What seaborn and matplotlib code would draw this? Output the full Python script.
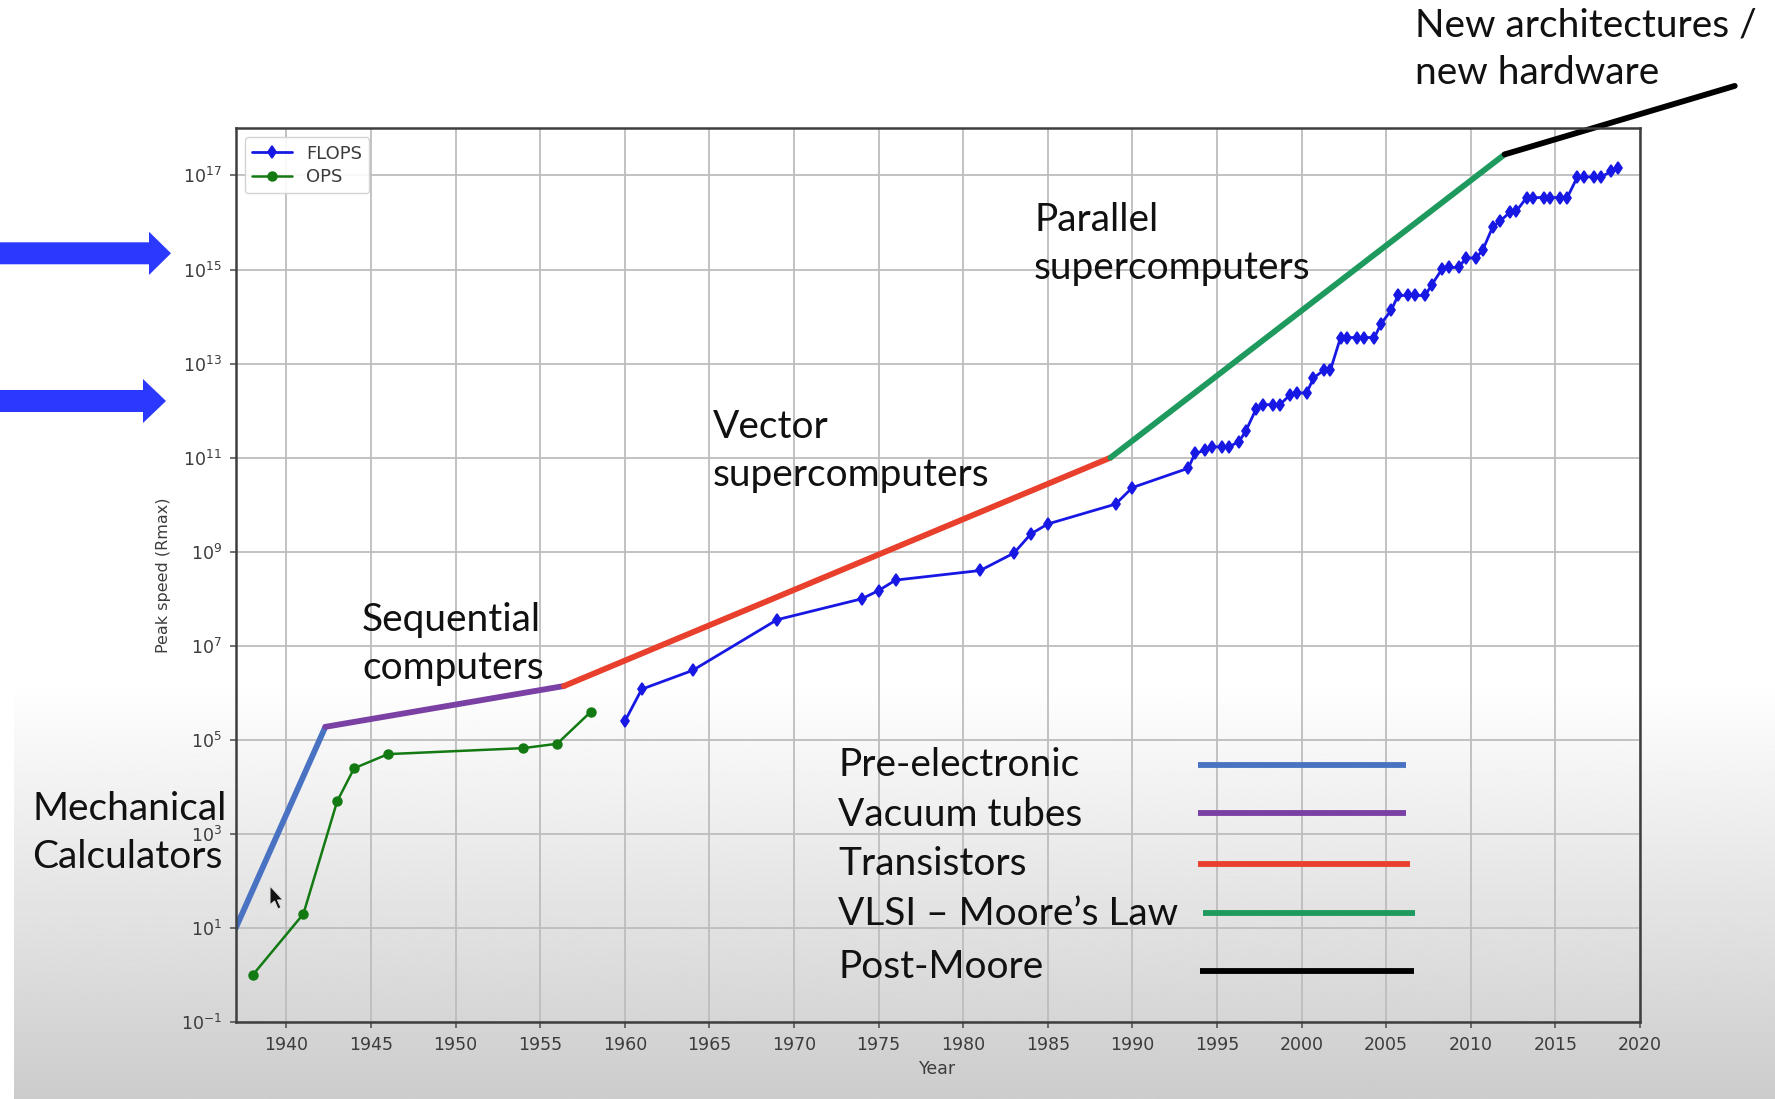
import numpy as np
import pandas as pd
import matplotlib
matplotlib.use("Agg")
import matplotlib.pyplot as plt
import seaborn as sns
from matplotlib.patches import Polygon
from matplotlib.lines import Line2D
from matplotlib.ticker import NullLocator, LogFormatterSciNotation

# ---- data -------------------------------------------------------------
ops_years = [1938, 1941, 1943, 1944, 1946, 1954, 1956, 1958]
ops_values = [1.0, 20, 5.0e3, 2.5e4, 5.0e4, 6.7e4, 8.3e4, 4.0e5]

flops_years = [1960, 1961, 1964, 1969, 1974, 1975, 1976, 1981, 1983, 1984, 1985, 1989, 1990,
               1993.3, 1993.7, 1994.3, 1994.7, 1995.3, 1995.7, 1996.3, 1996.7,
               1997.3, 1997.7, 1998.3, 1998.7, 1999.3, 1999.7, 2000.3, 2000.7,
               2001.3, 2001.7, 2002.3, 2002.7, 2003.3, 2003.7, 2004.3, 2004.7,
               2005.3, 2005.7, 2006.3, 2006.7, 2007.3, 2007.7, 2008.3, 2008.7,
               2009.3, 2009.7, 2010.3, 2010.7, 2011.3, 2011.7, 2012.3, 2012.7,
               2013.3, 2013.7, 2014.3, 2014.7, 2015.3, 2015.7, 2016.3, 2016.7,
               2017.3, 2017.7, 2018.3, 2018.7]
flops_values = [2.5e5, 1.2e6, 3.0e6, 3.6e7, 1.0e8, 1.5e8, 2.5e8, 4.0e8, 9.4e8, 2.4e9, 3.9e9, 1.03e10, 2.32e10,
                5.97e10, 1.24e11, 1.434e11, 1.70e11, 1.70e11, 1.70e11, 2.204e11, 3.682e11,
                1.068e12, 1.338e12, 1.338e12, 1.338e12, 2.121e12, 2.379e12, 2.379e12, 4.938e12,
                7.226e12, 7.226e12, 3.586e13, 3.586e13, 3.586e13, 3.586e13, 3.586e13, 7.072e13,
                1.368e14, 2.806e14, 2.806e14, 2.806e14, 2.806e14, 4.782e14, 1.026e15, 1.105e15,
                1.105e15, 1.759e15, 1.759e15, 2.566e15, 8.162e15, 1.051e16, 1.632e16, 1.759e16,
                3.386e16, 3.386e16, 3.386e16, 3.386e16, 3.386e16, 3.386e16, 9.301e16, 9.301e16,
                9.301e16, 9.301e16, 1.223e17, 1.435e17]

era_names = ["Pre-electronic", "Vacuum tubes", "Transistors", "VLSI \u2013 Moore\u2019s Law", "Post-Moore"]
era_colors = ["#4a72c2", "#7a40a4", "#e8402c", "#1f9a5e", "#000000"]
era_years = [1937, 1942.3, 1956.4, 1988.7, 2012.0, 2025.6]
era_peaks = [1.0e1, 1.9e5, 1.4e6, 1.0e11, 2.8e17, 8.0e18]

year_ticks = list(range(1940, 2021, 5))
exp_ticks = list(range(-1, 18, 2))

# ---- layout helpers (pixel -> figure fraction) ------------------------
W, H = 1775, 1099


def fx(x):
    return x / W


def fy(y):
    return 1 - y / H


sns.set_style("whitegrid")
plt.rcParams["font.family"] = ["DejaVu Sans"]
ANN = "Lato"

fig = plt.figure(figsize=(W / 100, H / 100), dpi=100)
fig.patch.set_facecolor("white")

# soft grey haze over the lower part of the slide
bg = fig.add_axes([0, 0, 1, 1], zorder=-5)
bg.axis("off")
bg.set_xlim(0, 1)
bg.set_ylim(0, 1)
ramp = np.linspace(0.80, 1.0, 256).reshape(-1, 1)
bg.imshow(ramp, extent=[fx(13.6), 1, 0, fy(680)], origin="lower", aspect="auto",
          cmap="gray", vmin=0, vmax=1, interpolation="bilinear")

ax = fig.add_axes([fx(235.7), fy(1022.2), fx(1640) - fx(235.7), fy(128.4) - fy(1022.2)])
ax.set_facecolor("none")
ax.set_yscale("log")

flops_df = pd.DataFrame({"Year": flops_years, "Peak": flops_values})
ops_df = pd.DataFrame({"Year": ops_years, "Peak": ops_values})

# technology eras drawn as thick trend segments
for i, (name, col) in enumerate(zip(era_names, era_colors)):
    seg = pd.DataFrame({"Year": era_years[i:i + 2], "Peak": era_peaks[i:i + 2]})
    sns.lineplot(data=seg, x="Year", y="Peak", color=col, linewidth=4.2,
                 estimator=None, sort=False, ax=ax, legend=False)
    ax.lines[-1].set_solid_capstyle("round")
    if name == "Post-Moore":
        ax.lines[-1].set_clip_on(False)

sns.lineplot(data=flops_df, x="Year", y="Peak", color="#1818e4", linewidth=2.0,
             marker="d", markersize=6.5, markeredgecolor="#1818e4", markeredgewidth=1.2,
             estimator=None, ax=ax, label="FLOPS")
sns.lineplot(data=ops_df, x="Year", y="Peak", color="#137a13", linewidth=1.8,
             marker="o", markersize=6.5, markeredgecolor="#137a13", markeredgewidth=1,
             estimator=None, ax=ax, label="OPS")

ax.set_xlim(1937, 2020)
ax.set_ylim(1e-1, 1e18)
ax.set_xticks(year_ticks)
ax.set_yticks([10.0 ** e for e in exp_ticks])
ax.yaxis.set_major_formatter(LogFormatterSciNotation())
ax.yaxis.set_minor_locator(NullLocator())
ax.grid(True, which="major", color="#bdbdbd", linewidth=1.3)
ax.tick_params(axis="both", which="major", bottom=True, left=True, length=4, width=1.1,
               color="#4a4a4a", labelsize=12.5, labelcolor="#3c3c3c", pad=6)
for sp in ax.spines.values():
    sp.set_visible(True)
    sp.set_color("#3e3e3e")
    sp.set_linewidth(1.8)
ax.set_xlabel("Year", fontsize=12.5, color="#3c3c3c", labelpad=4)
ax.set_ylabel("Peak speed (Rmax)", fontsize=11.5, color="#3c3c3c", labelpad=7)

leg = ax.legend(loc="upper left", fontsize=13, frameon=True, fancybox=True,
                edgecolor="#d0d0d0", facecolor="white", framealpha=0.9,
                handlelength=2.2, borderpad=0.4, labelspacing=0.3)
for t in leg.get_texts():
    t.set_color("#3c3c3c")

# era key on the right of the labels
ann_kw = dict(family=ANN, fontsize=28, color="#111111", ha="left", va="center")
label_y = [765, 815, 864, 914, 967]
key_y = [765, 813, 864, 913, 971]
key_x = [(1198, 1406), (1198, 1406), (1198, 1410), (1203, 1415), (1200, 1414)]
for name, col, ty, ky, (x0, x1) in zip(era_names, era_colors, label_y, key_y, key_x):
    fig.text(fx(838), fy(ty), name, **ann_kw)
    fig.add_artist(Line2D([fx(x0), fx(x1)], [fy(ky), fy(ky)], transform=fig.transFigure,
                          color=col, linewidth=4.2, solid_capstyle="butt"))

# era annotations
blocks = [
    ("New architectures /\nnew hardware", 1415, 49),
    ("Parallel\nsupercomputers", 1034, 244),
    ("Vector\nsupercomputers", 713, 451),
    ("Sequential\ncomputers", 362, 644),
    ("Mechanical\nCalculators", 32, 833),
]
for txt, x, y in blocks:
    fig.text(fx(x), fy(y), txt, linespacing=1.4, **ann_kw)

# pointer arrows on the left margin
arrow_blue = "#2b39ff"
for (y0, y1, hy0, hy1, hx, tip) in [(242.3, 264.3, 231.7, 275, 149, 171),
                                     (390, 412, 379, 423, 143, 166)]:
    yc = (y0 + y1) / 2
    pts = [(0, y0), (hx, y0), (hx, hy0), (tip, yc), (hx, hy1), (hx, y1), (0, y1)]
    fig.add_artist(Polygon([(fx(a), fy(b)) for a, b in pts], closed=True,
                           transform=fig.transFigure, facecolor=arrow_blue,
                           edgecolor="none"))

# mouse pointer
cur = [(0, 0), (0, 19), (4.5, 15), (8, 23), (11, 21.5), (7.5, 14), (13, 14)]
fig.add_artist(Polygon([(fx(270 + a), fy(886 + b)) for a, b in cur], closed=True,
                       transform=fig.transFigure, facecolor="#111111",
                       edgecolor="#dddddd", linewidth=0.8))

fig.savefig("out.png", dpi=100)
